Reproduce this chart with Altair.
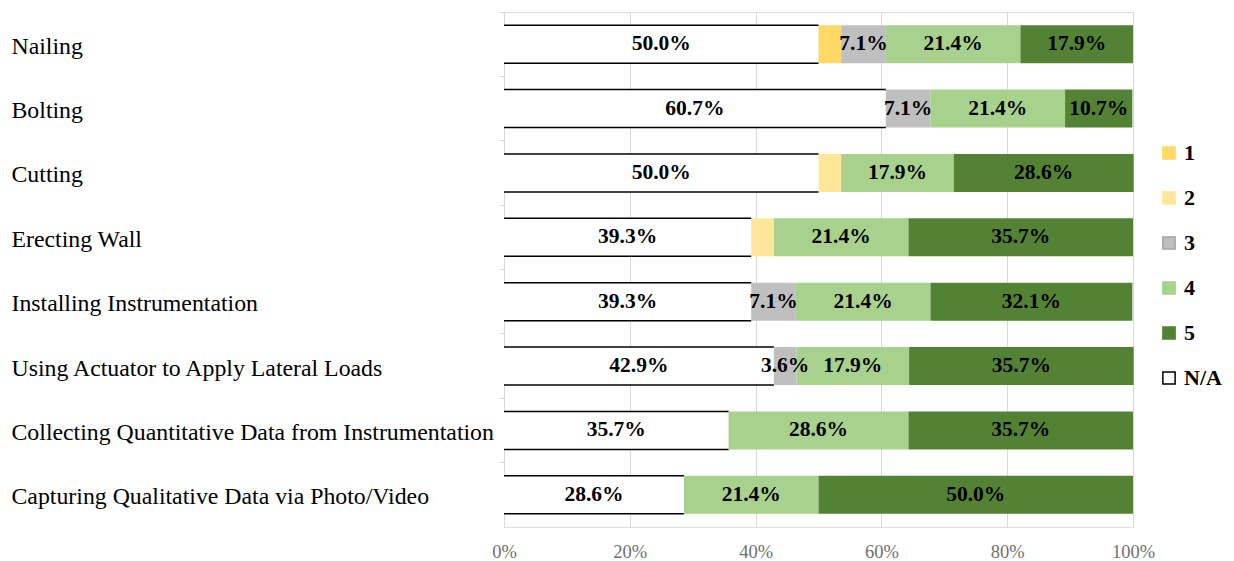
import altair as alt
import pandas as pd

tasks = [
    "Nailing",
    "Bolting",
    "Cutting",
    "Erecting Wall",
    "Installing Instrumentation",
    "Using Actuator to Apply Lateral Loads",
    "Collecting Quantitative Data from Instrumentation",
    "Capturing Qualitative Data via Photo/Video",
]
stack_order = ["N/A", "1", "2", "3", "4", "5"]
legend_order = ["1", "2", "3", "4", "5", "N/A"]
colors = ["#FFD966", "#FFE699", "#BFBFBF", "#A9D18E", "#548235", "#FFFFFF"]
strokes = ["#FFD966", "#FFE699", "#A5A5A5", "#A9D18E", "#548235", "#000000"]

na = [50.0, 60.7, 50.0, 39.3, 39.3, 42.9, 35.7, 28.6]
r1 = [3.6, 0, 0, 0, 0, 0, 0, 0]
r2 = [0, 0, 3.6, 3.6, 0, 0, 0, 0]
r3 = [7.1, 7.1, 0, 0, 7.1, 3.6, 0, 0]
r4 = [21.4, 21.4, 17.9, 21.4, 21.4, 17.9, 28.6, 21.4]
r5 = [17.9, 10.7, 28.6, 35.7, 32.1, 35.7, 35.7, 50.0]
series = {"N/A": na, "1": r1, "2": r2, "3": r3, "4": r4, "5": r5}
labelled = ["N/A", "3", "4", "5"]

rows = []
for i, t in enumerate(tasks):
    cum = 0.0
    for r in stack_order:
        v = series[r][i]
        if v <= 0:
            continue
        rows.append({
            "task": t, "rating": r, "value": v,
            "start": cum, "end": cum + v, "mid": cum + v / 2,
            "label": f"{v:.1f}%" if r in labelled else "",
        })
        cum += v
df = pd.DataFrame(rows)
df_na = df[df["rating"] == "N/A"]

FONT = "Liberation Serif"

y_enc = alt.Y(
    "task:N", sort=tasks,
    scale=alt.Scale(paddingInner=0.41, paddingOuter=0.205),
    axis=alt.Axis(
        title=None, labelAlign="left", labelPadding=488, tickSize=5,
        ticks=True, tickColor="#D9D9D9", domainColor="#D9D9D9",
        labelFont=FONT, labelFontSize=23.8, labelColor="#000000",
        bandPosition=-0.347, labelLimit=600, labelOffset=2.5,
    ),
)
x_scale = alt.Scale(domain=[0, 100], nice=False)

leg = dict(title=None, orient="none", legendX=654, legendY=130,
           symbolType="square", symbolSize=150, labelOffset=4,
           labelFont=FONT, labelFontSize=22, labelFontWeight="bold",
           labelColor="#000000", rowPadding=23, symbolStrokeWidth=1.5)

bars = alt.Chart(df).mark_bar(strokeWidth=0).encode(
    x=alt.X("start:Q", scale=x_scale, axis=alt.Axis(
        title=None, values=[0, 20, 40, 60, 80, 100],
        labelExpr="datum.value + '%'", grid=True, gridColor="#D9D9D9",
        domain=False, ticks=False, labelFont=FONT, labelFontSize=18.5,
        labelColor="#707070", labelPadding=15, labelFlush=False,
    )),
    x2="end:Q",
    y=y_enc,
    color=alt.Color("rating:N", scale=alt.Scale(domain=legend_order, range=colors),
                    legend=alt.Legend(**leg)),
    stroke=alt.Stroke("rating:N", scale=alt.Scale(domain=legend_order, range=strokes),
                      legend=alt.Legend(**leg)),
)

top_rule = alt.Chart(df_na).mark_rule(color="black", strokeWidth=1.5, yOffset=-19).encode(
    x=alt.X("start:Q", scale=x_scale), x2="end:Q", y=alt.Y("task:N", sort=tasks))
bot_rule = alt.Chart(df_na).mark_rule(color="black", strokeWidth=1.5, yOffset=19).encode(
    x=alt.X("start:Q", scale=x_scale), x2="end:Q", y=alt.Y("task:N", sort=tasks))

text = alt.Chart(df).mark_text(font=FONT, fontSize=21.5, fontWeight="bold",
                               color="#000000", baseline="middle").encode(
    x=alt.X("mid:Q", scale=x_scale), y=alt.Y("task:N", sort=tasks), text="label:N")

chart = alt.layer(bars, top_rule, bot_rule, text).properties(
    width=629, height=515,
    autosize=alt.AutoSizeParams(type="none"),
    padding={"left": 504, "top": 12, "right": 101, "bottom": 34},
).configure_view(stroke=None).configure(background="white")

chart.save("out.html", embed_options={"renderer": "svg", "actions": False})
